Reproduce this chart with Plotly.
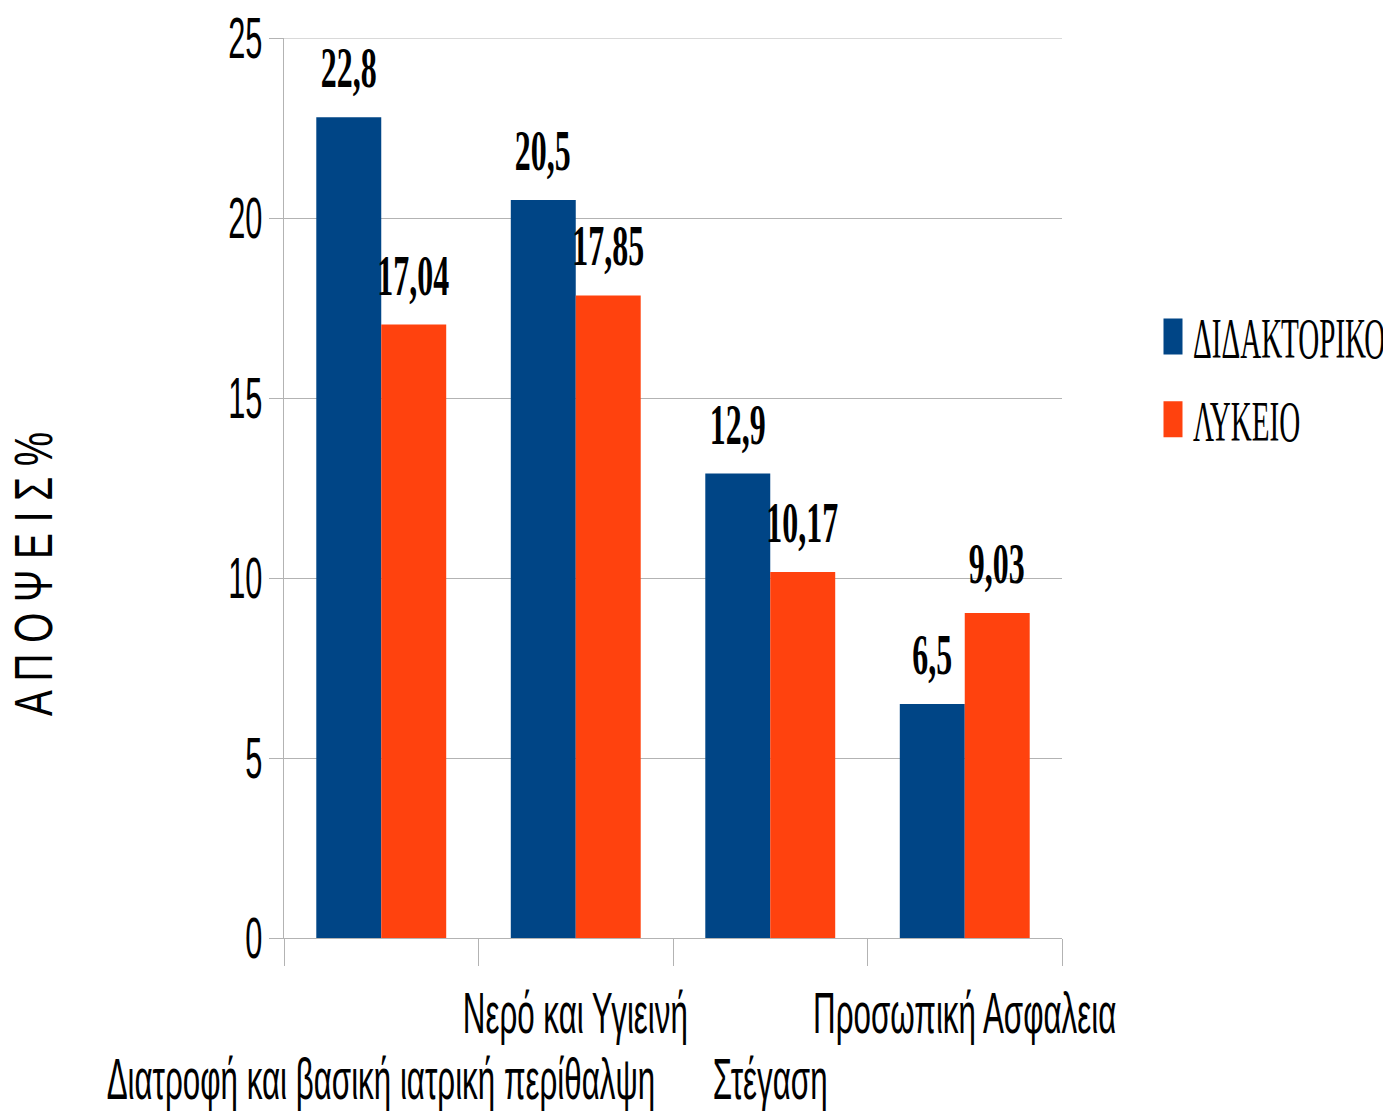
import json
import plotly.graph_objects as go

categories = ["Διατροφή και βασική ιατρική περίθαλψη", "Νερό και Υγιεινή", "Στέγαση", "Προσωπική Ασφαλεια"]
series_names = ["ΔΙΔΑΚΤΟΡΙΚΟ", "ΛΥΚΕΙΟ"]
didaktoriko = [22.8, 20.5, 12.9, 6.5]
lykeio = [17.04, 17.85, 10.17, 9.03]
y_ticks = [0, 5, 10, 15, 20, 25]
y_title = "Α Π Ο Ψ Ε Ι Σ %"

BLUE = "#004586"
ORANGE = "#ff420e"
GRID = "#b3b3b3"
SANS = "Liberation Sans, Arial, sans-serif"
SERIF = "Liberation Serif, Times New Roman, serif"

OFF = 8  # default page body margin
W, H = 1391 - OFF, 1115 - OFF
# plot area in page pixels: x 284..1062, y 38..938
ML, MT = 284 - OFF, 38 - OFF
MR, MB = W - (1062 - OFF), H - (938 - OFF)
PW, PH = W - ML - MR, H - MT - MB
BARGAP = 0.332

def px_to_paper_x(px):
    return (px - OFF - ML) / PW

def px_to_paper_y(py):
    return (H - MB - (py - OFF)) / PH

fig = go.Figure()
for name, vals, col in [(series_names[0], didaktoriko, BLUE), (series_names[1], lykeio, ORANGE)]:
    fig.add_trace(go.Bar(x=categories, y=vals, name=name, marker=dict(color=col, line=dict(width=0)),
                         legendgroup=name))

annotations = []
factors = []
# data labels
bw = (1 - BARGAP) / 2
for s, vals in enumerate([didaktoriko, lykeio]):
    off = -bw / 2 if s == 0 else bw / 2
    for i, v in enumerate(vals):
        annotations.append(dict(x=i + off, y=v, xref="x", yref="y", text=str(v).replace(".", ","),
                                showarrow=False, yanchor="bottom", xanchor="center", yshift=15,
                                font=dict(family=SERIF, size=58, color="black", weight="bold")))
        factors.append(0.55)
# category labels, staggered
for i, c in enumerate(categories):
    py = 1012 if i % 2 == 1 else 1078
    annotations.append(dict(x=i, y=px_to_paper_y(py), xref="x", yref="paper", text=c, showarrow=False,
                            yanchor="middle", xanchor="center",
                            font=dict(family=SANS, size=58, color="black")))
    factors.append(0.54)
# y axis title
annotations.append(dict(x=px_to_paper_x(33), y=px_to_paper_y(573.5), xref="paper", yref="paper",
                        text=y_title, showarrow=False, textangle=-90, xanchor="center", yanchor="middle",
                        font=dict(family=SANS, size=53, color="black")))
factors.append(0.73)

fig.update_layout(
    width=W, height=H,
    margin=dict(l=ML, r=MR, t=MT, b=MB, pad=0, autoexpand=False),
    paper_bgcolor="white", plot_bgcolor="white",
    barmode="group", bargap=BARGAP, bargroupgap=0,
    showlegend=True,
    legend=dict(x=px_to_paper_x(1153), y=px_to_paper_y(378), xanchor="left", yanchor="middle",
                font=dict(family=SERIF, size=56, color="black"), traceorder="grouped",
                tracegroupgap=7, bgcolor="rgba(0,0,0,0)", borderwidth=0),
    xaxis=dict(range=[-0.5, len(categories) - 0.5], autorange=False, automargin=False,
               showticklabels=False, ticks="outside", tickson="boundaries", ticklen=27,
               tickcolor=GRID, tickwidth=1, showline=True, linecolor=GRID, linewidth=1,
               showgrid=False, zeroline=False),
    yaxis=dict(range=[y_ticks[0], y_ticks[-1]], autorange=False, automargin=False, tickvals=y_ticks,
               ticks="outside", ticklen=14, tickcolor=GRID, ticklabelstandoff=-5,
               ticklabeloverflow="allow",
               tickwidth=1, showline=True, linecolor=GRID, linewidth=1, showgrid=True,
               gridcolor=GRID, gridwidth=1, zeroline=False,
               tickfont=dict(family=SANS, size=58, color="black")),
    annotations=annotations,
    shapes=[dict(type="line", xref="paper", x0=0, x1=1, yref="y", y0=y_ticks[-1], y1=y_ticks[-1],
                 line=dict(color=GRID, width=1), layer="below")],
)

post = """
var gd = document.getElementById('{plot_id}');
var facs = %s;
function sq(t, f){ var w = t.getComputedTextLength(); if (w > 0) { t.setAttribute('textLength', (w*f).toFixed(2)); t.setAttribute('lengthAdjust', 'spacingAndGlyphs'); } }
gd.querySelectorAll('.ytick text').forEach(function(t){ sq(t, 0.53); });
gd.querySelectorAll('text.legendtext').forEach(function(t){ sq(t, 0.52); });
gd.querySelectorAll('.legendpoints path').forEach(function(p){ p.setAttribute('d', 'M9.5,18H-9.5V-18H9.5Z'); });
gd.querySelectorAll('g.annotation').forEach(function(g){
  var i = +g.getAttribute('data-index');
  var t = g.querySelector('text.annotation-text');
  if (t && facs[i]) sq(t, facs[i]);
});
""" % json.dumps(factors)

fig.write_html("out.html", post_script=post)
